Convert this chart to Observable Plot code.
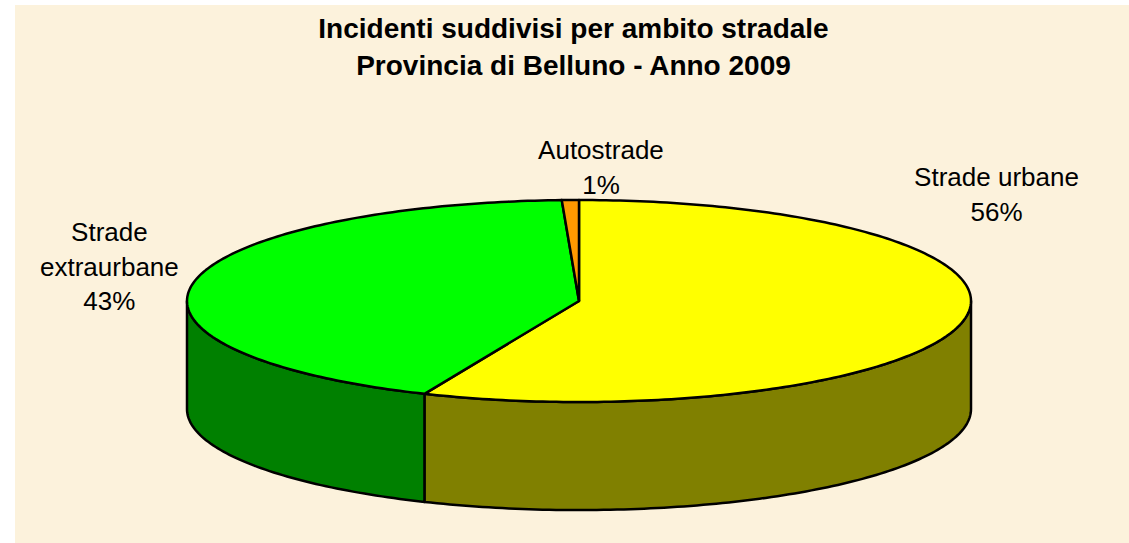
<!DOCTYPE html>
<html>
<head>
<meta charset="utf-8">
<script src="https://cdn.jsdelivr.net/npm/d3@7"></script>
<script src="https://cdn.jsdelivr.net/npm/@observablehq/plot@0.6"></script>
<style>
html, body { margin: 0; padding: 0; background: #ffffff; }
#wrap { position: relative; width: 1129px; height: 543px; overflow: hidden; font-family: "Liberation Sans", Arial, sans-serif; }
#bg { position: absolute; left: 15px; top: 5px; width: 1114px; height: 538px; background: #fcf2dc; }
#title { position: absolute; left: 0; width: 1147px; top: 9.5px; text-align: center; font-weight: bold; font-size: 28px; line-height: 37px; color: #000; }
#chart { position: absolute; left: 0; top: 0; }
</style>
</head>
<body>
<div id="wrap">
  <div id="bg"></div>
  <div id="title"></div>
  <div id="chart"></div>
</div>
<script>
// ---- data ----
const titleLines = ["Incidenti suddivisi per ambito stradale", "Provincia di Belluno - Anno 2009"];
const categories = ["Strade urbane", "Strade extraurbane", "Autostrade"];
const shares = [56.45, 42.85, 0.7];
const labelNames = [["Strade urbane"], ["Strade", "extraurbane"], ["Autostrade"]];

// ---- styles / layout ----
const topColors = {"Strade urbane": "#ffff00", "Strade extraurbane": "#00ff00", "Autostrade": "#ff9900"};
const sideColors = {"Strade urbane": "#808000", "Strade extraurbane": "#008000", "Autostrade": "#996600"};
const depth = 1.07;          // pie thickness, in y units of the ellipse
const labelAnchor = [[1.065, -0.795], [-1.198, 0.094], [0.056, -1.061]]; // last-line baseline, ellipse units

document.getElementById("title").innerHTML = titleLines.join("<br>");

// ---- geometry from values ----
const total = d3.sum(shares);
let acc = 0;
const slices = categories.map((c, i) => {
  const a0 = acc / total * 2 * Math.PI;
  acc += shares[i];
  const a1 = acc / total * 2 * Math.PI;
  return {c, i, a0, a1};
});
function arcAngles(a0, a1) {
  const n = Math.max(2, Math.ceil((a1 - a0) / (2 * Math.PI) * 360));
  return d3.range(n + 1).map(k => a0 + (a1 - a0) * k / n);
}
const sidePts = [];
slices.forEach(s => {
  const b0 = Math.max(s.a0, Math.PI / 2), b1 = Math.min(s.a1, 3 * Math.PI / 2);
  if (b1 <= b0) return;
  const arc = arcAngles(b0, b1);
  arc.forEach(a => sidePts.push({id: "s" + s.i, c: s.c, x: Math.sin(a), y: -Math.cos(a)}));
  arc.slice().reverse().forEach(a => sidePts.push({id: "s" + s.i, c: s.c, x: Math.sin(a), y: -Math.cos(a) + depth}));
});
const topPts = [];
slices.forEach(s => {
  topPts.push({id: "t" + s.i, c: s.c, x: 0, y: 0});
  arcAngles(s.a0, s.a1).forEach(a => topPts.push({id: "t" + s.i, c: s.c, x: Math.sin(a), y: -Math.cos(a)}));
});
const labels = slices.map((s, i) => ({
  x: labelAnchor[i][0], y: labelAnchor[i][1],
  text: labelNames[i].join("\n") + "\n" + Math.round(shares[i] / total * 100) + "%"
}));

const chart = Plot.plot({
  width: 1129, height: 543, margin: 0,
  style: {background: "transparent", overflow: "visible", fontFamily: "'Liberation Sans', Arial, sans-serif"},
  x: {type: "linear", domain: [-1, 1], range: [186.5, 970.5], axis: null},
  y: {type: "linear", domain: [-1, 1], range: [199.5, 401.5], axis: null},
  color: {type: "identity"},
  marks: [
    Plot.line(sidePts, {x: "x", y: "y", z: "id", fill: d => sideColors[d.c], stroke: "#000", strokeWidth: 2.5, curve: "linear-closed"}),
    Plot.line(topPts, {x: "x", y: "y", z: "id", fill: d => topColors[d.c], stroke: "#000", strokeWidth: 2.5, curve: "linear-closed"}),
    Plot.text(labels, {x: "x", y: "y", text: "text", lineAnchor: "bottom", lineHeight: 1.33, fontSize: 26, fill: "#000", textAnchor: "middle"})
  ]
});
document.getElementById("chart").appendChild(chart);
</script>
</body>
</html>
